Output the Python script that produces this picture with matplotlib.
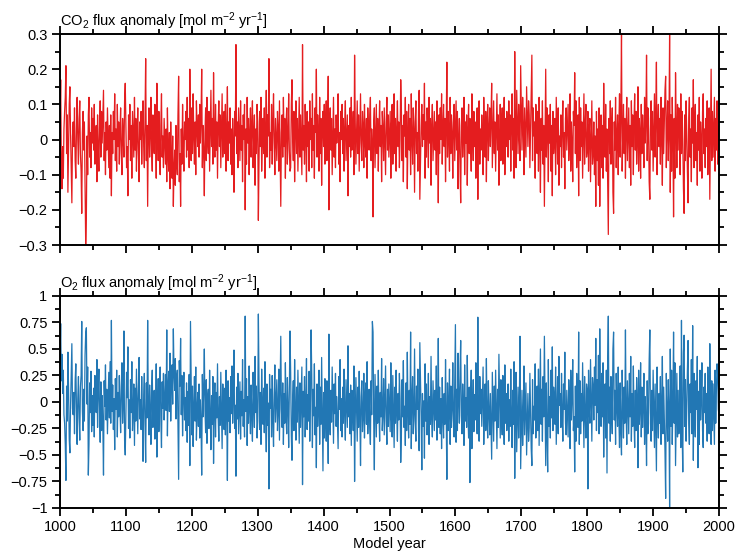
import numpy as np
import matplotlib
matplotlib.use('Agg')
import matplotlib.pyplot as plt
from matplotlib.ticker import MultipleLocator, FuncFormatter

plt.rcParams['font.family'] = ['Liberation Sans', 'DejaVu Sans']
plt.rcParams['mathtext.default'] = 'regular'

# Annual anomalies, in units of 0.01 mol m-2 yr-1, one row per decade
co2_txt = """
4 17 -6 -14 -2 -11 3 8 12 21
-4 7 -15 -3 10 15 2 -8 -18 1
5 -2 9 -6 -11 3 12 0 -7 6
11 -4 -9 -21 2 8 -3 5 -13 -30
-22 1 -10 7 12 -5 2 -8 9 -1
6 -3 10 -7 0 4 -12 7 -2 -9
3 11 -5 8 -1 6 14 -6 2 -10
5 -3 9 1 -8 4 -11 7 -16 2
-4 8 0 13 -6 3 -9 10 -2 5
-7 2 9 -4 -10 6 1 -5 11 16
3 -8 -2 -16 7 0 10 -6 4 -11
8 2 -5 12 -3 6 -9 1 9 -4
-12 5 0 8 -7 3 11 -2 -8 6
23 -6 4 -19 2 9 -5 1 12 -3
-9 7 0 -4 10 5 -11 16 3 -6
8 -2 -10 4 13 -5 1 -8 6 -1
-7 3 -12 9 -4 -9 2 -14 5 -6
-11 1 -19 -8 -3 -13 4 -6 -10 7
18 -12 -4 -19 3 -7 10 -2 -9 5
0 8 -5 12 -3 6 -8 20 2 -6
9 -4 13 1 -7 5 -10 11 3 -2
7 -5 10 -1 6 20 -8 4 -3 -16
2 9 -6 12 0 -4 8 -9 3 14
-2 6 -7 19 1 -5 10 -3 5 -11
4 11 -2 7 -8 3 13 -5 0 8
-4 10 -9 2 15 -6 5 -1 9 -7
3 -10 6 -2 -15 8 1 27 -4 5
-8 9 2 -6 11 -3 4 -12 7 0
10 -20 3 -7 12 -1 6 -10 2 9
-5 4 11 -8 1 7 -13 3 -4 10
5 -23 -6 8 -2 12 -9 0 6 -4
9 -11 3 14 -5 7 1 23 -8 2
-3 10 -7 5 13 -1 -10 6 0 -6
8 3 -9 11 -4 -19 2 7 -5 12
-2 6 -11 4 9 -7 1 13 -3 -9
-8 10 17 0 -6 8 -12 3 11 -4
6 -9 2 12 -5 7 -1 -10 27 -3
4 -7 10 1 -12 8 -2 5 -9 11
0 6 -8 13 -3 4 -11 9 2 20
-5 7 1 -9 12 -4 6 -13 3 8
-2 10 -7 5 11 -6 2 18 -20 4
9 -3 6 -10 1 12 -5 3 -8 7
-1 5 13 -7 2 -12 8 0 10 -4
6 -9 3 11 -6 1 7 -16 4 -2
9 -5 12 -3 0 8 -10 24 5 -7
2 11 -4 7 -9 3 13 -1 -6 8
4 -8 10 0 -5 6 -11 9 2 -3
7 12 -6 3 -1 -22 5 9 -8 1
10 -4 6 -9 2 11 -2 4 -12 8
3 -6 9 0 -10 5 12 -3 7 -5
1 8 -11 4 10 -7 2 13 -4 6
-9 3 11 -2 5 -8 0 17 9 -6
4 -12 7 1 12 -5 8 -14 2 10
-3 6 -10 13 0 -7 9 3 -15 5
11 -4 2 -9 8 14 -17 -6 4 10
-2 7 0 16 -11 5 -5 9 3 -8
12 -1 6 -13 4 10 -6 1 8 -3
5 -10 11 2 -18 7 -4 9 0 13
-7 4 10 -2 6 -12 3 22 -5 8
1 -9 12 -4 7 2 -11 5 10 -6
3 11 -3 8 -14 0 6 -8 -18 4
9 -5 2 12 -10 5 -1 7 -13 3
10 -4 6 0 -9 13 2 -6 8 -2
5 -11 1 9 -17 4 11 -7 3 -3
7 0 -10 12 2 -5 8 -12 4 10
-6 3 9 -2 6 16 -8 1 11 -4
5 -9 2 13 -3 7 -13 0 10 -6
4 9 -7 1 12 -10 6 -2 8 3
-5 11 0 7 -9 4 13 -3 6 -11
25 2 -8 14 5 -4 10 1 -6 21
8 -3 12 4 -10 9 2 -5 15 6
-2 11 7 -8 3 13 24 -6 9 1
5 -11 10 2 -4 8 -9 12 0 -15
6 -3 11 -7 4 -19 1 20 -5 9
2 -12 7 -1 10 -9 4 -16 8 -4
0 6 -10 12 3 -7 9 -13 1 -2
7 -8 4 11 -5 2 -14 6 9 -3
3 10 -6 0 13 -9 5 -1 -12 8
4 19 -4 11 -8 2 7 -16 12 -6
9 -2 5 -11 1 13 -7 4 10 -5
-3 8 -9 2 6 -12 0 11 -7 -4
5 -10 1 -19 8 -6 3 -13 9 -19
-2 7 -8 4 -11 16 0 -5 10 -9
3 -12 -27 6 -4 11 -7 2 9 -15
-21 5 -3 12 -8 1 7 -10 4 13
-5 8 30 -9 2 10 -4 6 -11 3
12 -6 1 9 -8 4 -13 11 -2 7
-10 5 13 -3 8 -7 0 15 -9 6
2 -11 10 -4 7 1 -8 12 -1 5
24 -6 9 3 -12 -17 6 11 -3 8
-9 2 13 -5 7 22 -10 4 10 -2
6 -7 12 1 -13 9 -4 5 14 18
-8 3 11 -6 2 30 -15 7 -9 12
1 -22 6 -11 19 4 -8 10 -3 9
5 -10 13 -4 8 0 -14 -21 7 -6
11 2 -9 -18 6 12 -5 3 -12 9
-1 17 -8 4 10 -6 2 -13 7 -3
12 -9 5 0 -11 8 13 -4 3 -8
6 -2 11 -10 4 9 -17 1 20 -6
8 -5 3 12 -9 6 -3 11 -7 2
4
"""

o2_txt = """
35 74 20 45 8 30 -12 -20 -40 -74
15 -18 47 12 -35 -48 -4 27 55 -6
-12 9 -30 20 36 -6 -40 3 24 -15
-36 14 25 76 -9 -27 12 -18 44 65
70 -2 33 -69 -40 18 -10 29 -28 6
-22 13 -33 25 -4 -10 40 -24 8 31
-7 -38 19 -27 6 -21 -69 20 -4 35
-17 12 -30 -1 28 -15 38 -20 77 -9
16 -26 3 -45 22 -7 30 -33 9 -14
25 -5 -29 15 37 -20 -1 67 -36 -50
-13 28 4 52 -25 2 -34 21 -10 38
-27 -9 17 -41 13 -18 31 -2 -30 11
42 -16 2 -26 24 -12 -56 7 27 -21
-57 18 -15 77 -5 -31 16 -6 -40 12
30 -24 5 11 -35 -14 36 -52 -8 22
-28 7 33 -15 -43 19 -6 27 -17 2
26 -8 68 -32 14 29 -9 46 -18 20
35 -2 69 27 11 41 -16 22 30 -25
-73 39 15 60 -12 25 -32 8 28 -17
4 -27 18 -38 10 -22 26 -60 76 19
-31 15 -42 -5 24 -18 33 -36 -7 9
-23 17 -34 2 -20 -69 26 -14 11 50
-8 -29 21 -39 3 12 -25 30 -12 -45
6 -21 24 -58 -4 18 -33 9 -15 36
-14 -37 5 -22 28 -11 -44 17 1 -26
13 -31 30 -9 -74 20 -18 4 -29 24
-11 34 -20 7 49 -25 -3 -70 14 -16
27 -30 -6 19 -35 10 -13 40 -23 2
-33 81 -9 22 -41 5 -20 34 -8 -30
16 -13 -37 28 -2 -24 43 -10 15 -34
-18 83 19 -26 9 -40 31 -3 -21 13
-29 38 -11 -47 17 -22 -1 -82 26 -6
12 -33 25 -17 -42 6 35 -19 2 21
-27 -8 31 -36 15 62 -7 -24 18 -40
8 -20 37 -14 -30 23 -4 -43 11 67
28 -32 -55 3 20 -27 40 -9 -36 14
-19 30 -5 -39 18 -24 4 33 -78 10
-14 24 -33 -2 41 -26 7 -18 29 -37
3 68 26 -43 12 -13 36 -31 -5 -62
17 -23 -4 30 -40 14 -21 42 -10 -65
9 -34 22 -16 -37 20 -8 -58 64 -15
-31 11 -19 33 -2 -39 17 -11 27 -23
5 -18 -44 24 -7 40 -27 3 -33 14
-20 31 -12 -36 21 -3 -24 53 -14 8
-30 16 -41 11 2 -27 34 -75 -17 23
-6 -37 14 -24 29 -11 -60 5 20 -28
-15 27 -34 3 18 -21 38 -30 -7 12
-24 -40 20 -12 76 66 -17 -64 26 -4
-33 15 -20 30 -8 -37 9 -14 41 -27
-11 22 -31 2 34 -18 -40 12 -23 17
-5 -28 37 -15 -33 25 -9 -43 14 -20
30 -12 -37 8 -17 27 3 -57 -31 21
-14 39 -24 -4 -41 18 -27 47 -8 -34
11 -21 66 -44 2 24 -30 -12 50 -18
-37 15 -7 31 -27 -46 56 20 -14 -64
8 -23 1 -53 36 -18 17 -31 -11 27
-40 5 -21 43 -15 -33 20 -2 -27 11
-17 34 -36 -8 60 -24 14 -30 3 -44
23 -14 -34 8 -21 40 -11 -73 18 -27
-3 31 -40 15 -24 -7 37 -16 -33 21
73 -38 12 -27 46 2 -20 28 58 -13
-30 17 -6 -41 35 -18 4 -24 44 -10
-34 14 -76 2 30 -44 -7 21 -28 7
-17 37 -4 -30 80 -14 -37 24 -11 12
-23 3 33 -40 -8 17 -27 41 -15 -34
20 -11 -31 8 -21 -54 28 -3 -37 15
-18 30 -7 -44 12 -24 45 2 -34 21
-14 -31 25 -4 -40 35 -20 8 -27 -10
17 -37 2 -23 31 -15 -43 11 -21 38
-72 -6 28 -47 -18 14 -34 -2 62 -63
-27 11 -41 -14 34 -31 -6 18 -50 -20
8 -37 -24 27 -11 -44 -60 21 -30 -4
-17 36 -34 -7 15 -27 31 -41 2 50
-21 12 -37 24 -14 62 -3 -60 18 -31
-66 40 -23 5 -34 30 -15 52 -27 14
3 -21 33 -40 -10 24 -30 43 -3 8
-24 27 -13 -37 17 -7 47 -20 -31 11
-10 -33 21 2 -44 30 -17 4 40 -27
-14 -66 15 -37 27 -6 -24 66 -40 20
-30 8 -18 37 -4 -43 24 -13 -34 17
11 -82 30 -6 -20 40 2 -37 23 14
-17 33 -3 60 -27 21 -10 44 -30 69
8 -23 27 -14 37 -52 3 17 -34 30
-67 40 81 -20 14 -37 24 -7 -30 50
66 -17 11 -40 27 -4 -23 33 -14 -43
18 -27 -50 30 -6 -34 14 -20 68 -10
-40 20 -4 -30 27 -14 43 -37 8 -23
34 -17 -43 11 -27 23 2 -62 30 -21
-7 37 -33 14 -24 -3 27 -40 5 -17
-60 20 -30 -10 40 68 -20 -37 11 -27
30 -6 -43 17 -24 -65 33 -13 -34 8
-20 24 -40 -3 43 -30 14 -17 -47 -91
27 -10 -37 21 -6 -99 50 -23 30 -40
-3 66 -20 37 -60 -14 27 -33 11 -30
-17 34 -43 77 -27 -66 47 63 -23 21
-37 -7 30 58 -20 -40 17 -10 40 -30
72 -55 27 -14 -33 20 -7 43 -62 10
-40 30 -17 2 37 -27 -43 14 -10 27
-20 8 -37 33 -14 -30 55 -3 -40 20
-27 17 -10 -40 30 -20 11 36 24 -7
-13
"""

co2 = np.array(co2_txt.split(), dtype=float) / 100.0
o2 = np.array(o2_txt.split(), dtype=float) / 100.0
years = np.arange(1000, 1000 + len(co2))

red = '#e41d1f'
blue = '#2277b4'


def fmt(v, pos):
    s = ('%.2f' % v).rstrip('0').rstrip('.')
    if s in ('-0', ''):
        s = '0'
    return s.replace('-', '\u2212')


fig = plt.figure(figsize=(7.38, 5.57), dpi=100)
ax1 = fig.add_axes([0.0813, 0.5601, 0.893, 0.3788])
ax2 = fig.add_axes([0.0813, 0.0880, 0.893, 0.3806])

ax1.plot(years, co2, color=red, lw=0.9)
ax2.plot(years, o2, color=blue, lw=0.9)

ax1.set_ylim(-0.3, 0.3)
ax1.yaxis.set_major_locator(MultipleLocator(0.1))
ax1.yaxis.set_minor_locator(MultipleLocator(0.05))
ax2.set_ylim(-1, 1)
ax2.yaxis.set_major_locator(MultipleLocator(0.25))
ax2.yaxis.set_minor_locator(MultipleLocator(0.125))

for ax in (ax1, ax2):
    ax.set_xlim(1000, 2000)
    ax.xaxis.set_major_locator(MultipleLocator(100))
    ax.xaxis.set_minor_locator(MultipleLocator(50))
    ax.yaxis.set_major_formatter(FuncFormatter(fmt))
    ax.tick_params(which='both', direction='out', top=True, right=True,
                   width=1.3, labelsize=10.5, pad=3)
    ax.tick_params(which='major', length=6)
    ax.tick_params(which='minor', length=3.5)
    for sp in ax.spines.values():
        sp.set_linewidth(1.4)

ax1.tick_params(axis='x', labelbottom=False)

ax1.set_title(r'CO$_2$ flux anomaly [mol m$^{-2}$ yr$^{-1}$]', loc='left',
              fontsize=10.5, pad=6)
ax2.set_title(r'O$_2$ flux anomaly [mol m$^{-2}$ yr$^{-1}$]', loc='left',
              fontsize=10.5, pad=6)
ax2.set_xlabel('Model year', fontsize=10.5, labelpad=2)

fig.savefig('out.png', dpi=100)
